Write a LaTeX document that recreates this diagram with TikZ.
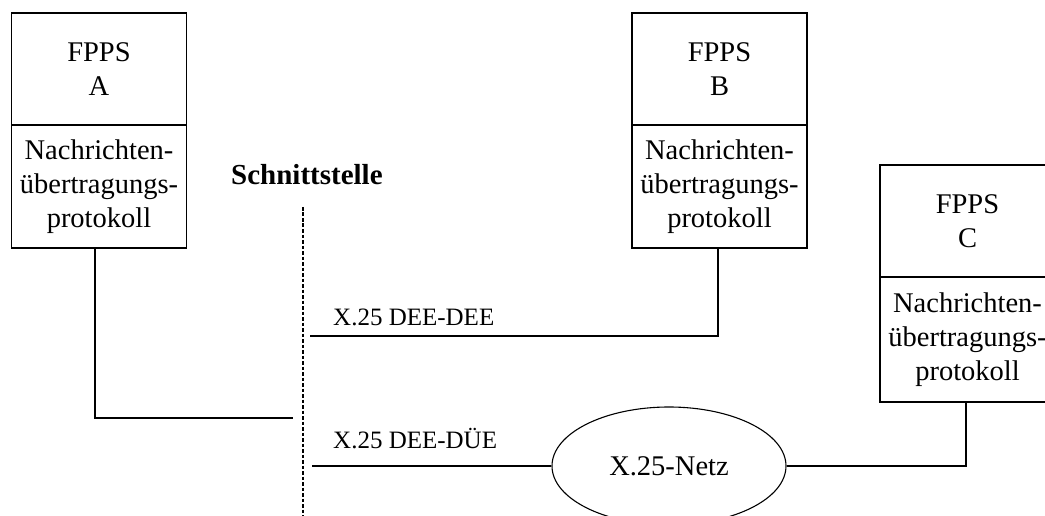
\documentclass[tikz,border=0pt]{standalone}
\usepackage{fontspec}
\setmainfont{Liberation Serif}
\usetikzlibrary{shapes.geometric}
\begin{document}
\begin{tikzpicture}[x=1pt,y=-1pt,
  box/.style={draw, line width=1.3pt, minimum width=175pt, inner sep=0pt,
    align=center, font=\fontsize{28.5}{34}\selectfont},
  head/.style={box, minimum height=112pt},
  proto/.style={box, minimum height=123pt},
  wire/.style={line width=1.1pt},
  lbl/.style={anchor=base west, inner sep=0pt, font=\fontsize{25}{30}\selectfont}]
\useasboundingbox (0,0) rectangle (1045,516);

% stations A, B, C
\node[head]  (hA) at (99,69) {FPPS\\A};
\node[proto] (pA) at (99,186.5) {Nachrichten-\\übertragungs-\\protokoll};
\node[head]  (hB) at (719.5,69) {FPPS\\B};
\node[proto] (pB) at (719.5,186.5) {Nachrichten-\\übertragungs-\\protokoll};
\node[head]  (hC) at (967.5,221) {FPPS\\C};
\node[box, minimum height=125pt] (pC) at (967.5,339.5) {Nachrichten-\\übertragungs-\\protokoll};

% interface
\node[anchor=base west, inner sep=0pt, font=\fontsize{29}{34}\selectfont\bfseries] (st) at (231,185) {Schnittstelle};
\coordinate (sTop) at (303,207);
\coordinate (sBot) at (303,520);
\draw[line width=1.9pt, dash pattern=on 3.6pt off 1.9pt] (sTop) -- (sBot);

% network
\node[ellipse, draw, line width=1.1pt, minimum width=234pt, minimum height=118pt, inner sep=0pt,
  font=\fontsize{28.5}{34}\selectfont] (net) at (669,466) {X.25-Netz};

% connections
\coordinate (jA) at (293,418);
\coordinate (eB) at (310,336);
\coordinate (eN) at (312,466);
\draw[wire] ([xshift=-4pt]pA.south) |- (jA);
\draw[wire] ([xshift=-1.5pt]pB.south) |- (eB);
\draw[wire] (eN) -- (net.west);
\draw[wire] (net.east) -| ([xshift=-1.5pt]pC.south);

% link labels
\node[lbl] (l1) at (333,325) {X.25 DEE-DEE};
\node[lbl] (l2) at (333,448) {X.25 DEE-DÜE};
\end{tikzpicture}
\end{document}
